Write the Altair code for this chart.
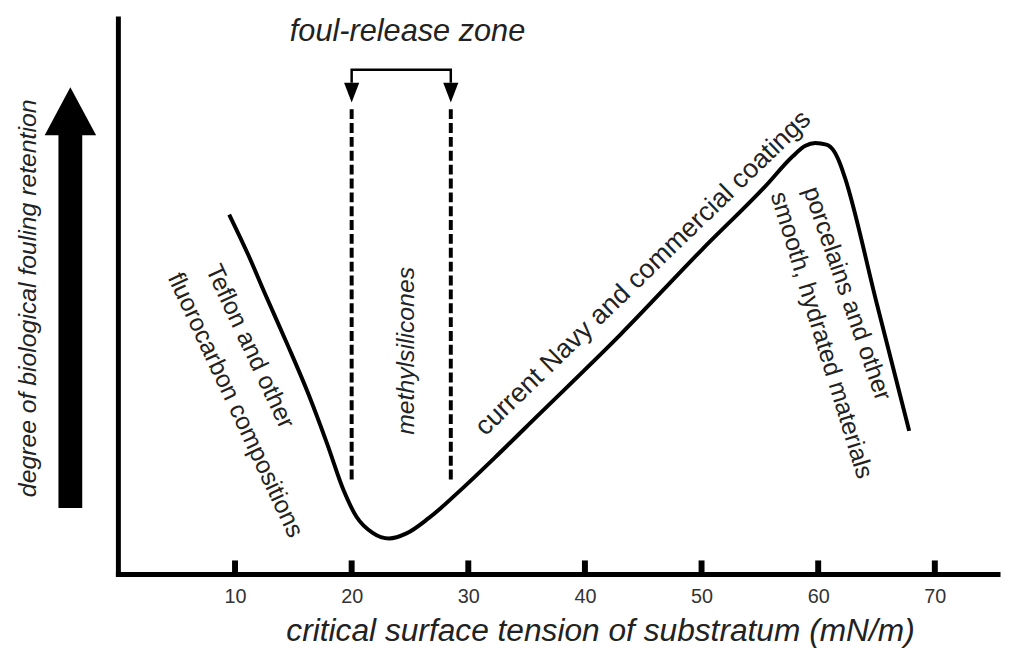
import altair as alt
import pandas as pd

# ---- data ----
curve_x = [9.5, 11.1, 12.6, 14.5, 16.3, 17.9, 19.3, 20.4, 21.8, 23.2, 24.7, 26.6, 29.5,
           32.3, 36.0, 43.0, 50.0, 55.5, 57.8, 58.9, 59.75, 60.7, 61.4, 61.9, 62.3, 65.0, 67.8]
curve_y = [63.9, 56.9, 49.7, 40.8, 32.0, 23.2, 15.0, 10.3, 7.4, 6.4, 7.3, 10.0, 15.3,
           20.8, 28.3, 42.5, 57.6, 69.0, 74.2, 76.1, 76.6, 76.3, 75.0, 72.8, 70.4, 48.3, 25.5]

tick_values = [10, 20, 30, 40, 50, 60, 70]
zone_bounds = [20, 28.5]
zone_dash_top = [82.6, 82.6]
zone_dash_bottom = [16.2, 16.7]

bracket_x = [20, 20, 28.5, 28.5]
bracket_y = [87.3, 89.6, 89.6, 87.3]

# triangles (arrow heads): id, x, y, base
tri_id = ["big", "big", "big", "l", "l", "l", "r", "r", "r"]
tri_x = [-6.32, -4.12, -1.91, 19.35, 20.0, 20.65, 27.85, 28.5, 29.15]
tri_y = [78.0, 86.5, 78.0, 87.3, 83.8, 87.3, 87.3, 83.8, 87.3]
tri_base = [78.0, 78.0, 78.0, 87.3, 87.3, 87.3, 87.3, 87.3, 87.3]

shaft_x = [-5.14]
shaft_x2 = [-3.10]
shaft_y = [11.8]
shaft_y2 = [78.3]

X_MIN, X_MAX = -9.465, 75.42
Y_MIN, Y_MAX = 0, 100

label_text = ["Teflon and other", "fluorocarbon compositions",
              "current Navy and commercial coatings",
              "porcelains and other", "smooth, hydrated materials"]
label_x = [11.3, 10.05, 45.0, 62.5, 60.3]
label_y = [40.5, 30.1, 53.5, 49.9, 42.5]
label_angle = [65, 65, 316, 71, 73]
label_size = [25, 25, 27, 25, 25]

italic_text = ["methylsilicones", "foul-release zone"]
italic_x = [24.66, 24.79]
italic_y = [39.7, 96.3]
italic_angle = [270, 0]
italic_size = [25, 31]

FONT = "Liberation Sans"

xs = alt.Scale(domain=[X_MIN, X_MAX], nice=False, zero=False)
ys = alt.Scale(domain=[Y_MIN, Y_MAX], nice=False, zero=False)

xaxis = alt.Axis(values=tick_values, domain=False, ticks=False, grid=False,
                 labelPadding=12, labelFontSize=20, labelColor="#333333", labelFont=FONT,
                 title="critical surface tension of substratum (mN/m)",
                 titleFont=FONT, titleFontSize=32, titleFontStyle="italic", titleFontWeight="normal",
                 titleColor="#222222", titleX=598, titleY=67, titleAlign="center",
                 titleBaseline="alphabetic")
yaxis = alt.Axis(domain=False, ticks=False, labels=False, grid=False,
                 title="degree of biological fouling retention",
                 titleFont=FONT, titleFontSize=25, titleFontStyle="italic", titleFontWeight="normal",
                 titleColor="#222222", titleAngle=270, titleX=19.5, titleY=289.5,
                 titleAlign="center", titleBaseline="middle")


def X(f):
    return alt.X(f, type="quantitative", scale=xs, axis=xaxis)


def Y(f):
    return alt.Y(f, type="quantitative", scale=ys, axis=yaxis)


curve_df = pd.DataFrame({"x": curve_x, "y": curve_y})
tick_df = pd.DataFrame({"x": tick_values, "y": [0] * len(tick_values), "y2": [2.5] * len(tick_values)})
axes_df = pd.DataFrame({"x": [0, 0], "x2": [0, X_MAX], "y": [0, 0], "y2": [98.6, 0]})
zone_df = pd.DataFrame({"x": zone_bounds, "y": zone_dash_top, "y2": zone_dash_bottom})
bracket_df = pd.DataFrame({"x": bracket_x, "y": bracket_y, "o": list(range(len(bracket_x)))})
tri_df = pd.DataFrame({"id": tri_id, "x": tri_x, "y": tri_y, "base": tri_base})
shaft_df = pd.DataFrame({"x": shaft_x, "x2": shaft_x2, "y": shaft_y, "y2": shaft_y2})
label_df = pd.DataFrame({"t": label_text, "x": label_x, "y": label_y, "a": label_angle, "s": label_size})
italic_df = pd.DataFrame({"t": italic_text, "x": italic_x, "y": italic_y, "a": italic_angle, "s": italic_size})

curve = alt.Chart(curve_df).mark_line(color="black", strokeWidth=4, interpolate="monotone").encode(
    x=X("x"), y=Y("y"))

axes = alt.Chart(axes_df).mark_rule(color="black", strokeWidth=5, strokeCap="square").encode(
    x=X("x"), x2="x2", y=Y("y"), y2="y2")

ticks = alt.Chart(tick_df).mark_rule(color="black", strokeWidth=6).encode(
    x=X("x"), y=Y("y"), y2="y2")

zone = alt.Chart(zone_df).mark_rule(color="black", strokeWidth=4, strokeDash=[10, 4]).encode(
    x=X("x"), y=Y("y"), y2="y2")

bracket = alt.Chart(bracket_df).mark_line(color="black", strokeWidth=2.5).encode(
    x=X("x"), y=Y("y"), order="o:Q")

tris = alt.Chart(tri_df).mark_area(color="black", opacity=1).encode(
    x=X("x"), y=Y("y"), y2="base", detail="id:N")

shaft = alt.Chart(shaft_df).mark_rect(color="black").encode(
    x=X("x"), x2="x2", y=Y("y"), y2="y2")

labels = alt.Chart(label_df).mark_text(font=FONT, color="#222222", align="center",
                                       baseline="middle").encode(
    x=X("x"), y=Y("y"), text="t:N",
    angle=alt.Angle("a:Q", scale=None), size=alt.Size("s:Q", scale=None))

italics = alt.Chart(italic_df).mark_text(font=FONT, color="#222222", align="center",
                                         baseline="middle", fontStyle="italic").encode(
    x=X("x"), y=Y("y"), text="t:N",
    angle=alt.Angle("a:Q", scale=None), size=alt.Size("s:Q", scale=None))

chart = alt.layer(axes, ticks, zone, bracket, tris, shaft, curve, labels, italics).properties(
    width=1000, height=569, padding=0, background="white"
).configure_view(stroke=None)

chart.save("out.html", embed_options={"renderer": "svg", "actions": False})
